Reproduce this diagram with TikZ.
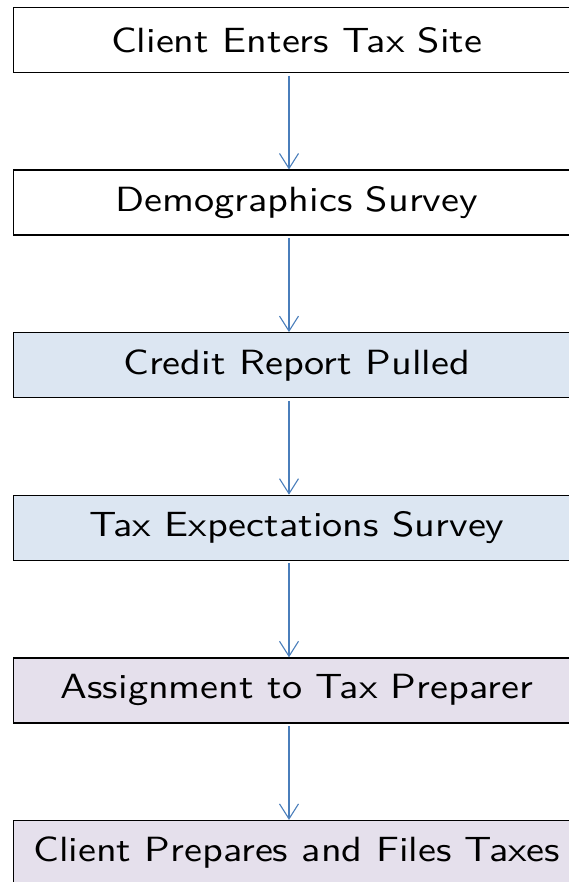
\documentclass[tikz,border=0pt]{standalone}
\usepackage{fontspec}
\usepackage{tikz}
\usetikzlibrary{arrows.meta, positioning}
\newfontfamily\boxfont{lmsans10-regular}[Extension=.otf, FakeStretch=1.15]
\definecolor{flowblue}{RGB}{74,126,187}
\definecolor{stepblue}{RGB}{220,230,242}
\definecolor{steplilac}{RGB}{229,224,236}

\begin{document}
\begin{tikzpicture}[
    x=1pt, y=1pt,
    node distance=96.4pt,
    block/.style={rectangle, draw=black, line width=1.2pt, minimum width=567pt, minimum height=65pt, inner sep=0pt, font=\boxfont\fontsize{35}{42}\selectfont},
    arrow/.style={-{Straight Barb[length=15pt,width=19pt]}, line width=1.1pt, draw=flowblue, shorten <=2.5pt}
]
\clip (0,0) rectangle (569,-882);
\coordinate (spine) at (289,0);

\node[block] (enter) at (296.75,-40) {Client Enters Tax Site};
\node[block, below=of enter] (demo) {Demographics Survey};
\node[block, fill=stepblue, below=of demo] (credit) {Credit Report Pulled};
\node[block, fill=stepblue, below=of credit] (expect) {Tax Expectations Survey};
\node[block, fill=steplilac, below=of expect] (assign) {Assignment to Tax Preparer};
\node[block, fill=steplilac, below=of assign] (files) {Client Prepares and Files Taxes};

\draw[arrow] (enter.south -| spine) -- (demo.north -| spine);
\draw[arrow] (demo.south -| spine) -- (credit.north -| spine);
\draw[arrow] (credit.south -| spine) -- (expect.north -| spine);
\draw[arrow] (expect.south -| spine) -- (assign.north -| spine);
\draw[arrow] (assign.south -| spine) -- (files.north -| spine);
\end{tikzpicture}
\end{document}
